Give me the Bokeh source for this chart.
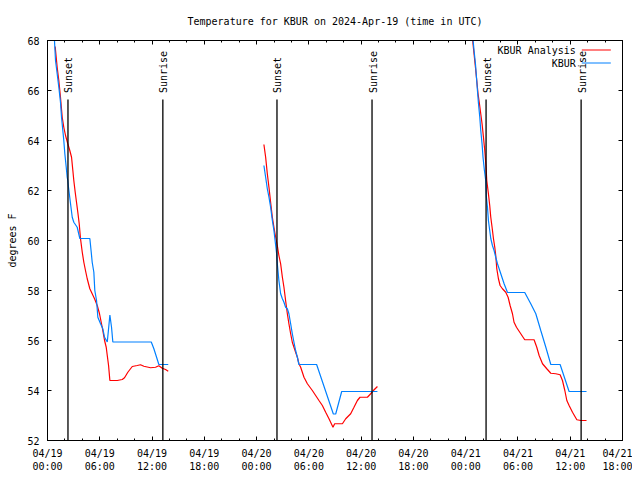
import pandas as pd
from math import pi
from bokeh.plotting import figure
from bokeh.models import (FixedTicker, DatetimeTickFormatter, LinearAxis, DatetimeAxis,
                          Range1d, ColumnDataSource)
from bokeh.core.properties import value
from bokeh.embed import file_html
from bokeh.resources import INLINE

TITLE = "Temperature for KBUR on 2024-Apr-19 (time in UTC)"
BASE = pd.Timestamp("2024-04-19 00:00")

# ---- data: hours since 2024-04-19 00:00 UTC, temperature in deg F ----
analysis_hours_1 = [0.88, 1.11, 1.30, 1.49, 1.69, 1.87, 2.07, 2.33, 2.56, 2.76, 2.91, 3.02, 3.18, 3.33, 3.48,
                    3.64, 3.79, 3.99, 4.17, 4.36, 4.56, 4.86, 5.13, 5.40, 5.71, 5.97, 6.28, 6.55, 6.74, 6.86,
                    7.01, 7.16, 8.01, 8.58, 8.84, 9.22, 9.73, 10.30, 10.68, 11.06, 11.83, 12.40, 12.78, 13.17,
                    13.55, 13.86]
analysis_temp_1 = [67.76, 66.93, 66.40, 65.73, 64.93, 64.53, 64.20, 63.87, 63.60, 63.33, 62.80, 62.40, 61.93,
                   61.53, 61.13, 60.67, 60.07, 59.53, 59.13, 58.80, 58.47, 58.07, 57.87, 57.67, 57.40, 57.07,
                   56.53, 56.00, 55.73, 55.40, 55.00, 54.40, 54.40, 54.44, 54.51, 54.73, 54.96, 55.00, 55.03,
                   54.97, 54.91, 54.93, 54.99, 54.89, 54.84, 54.77]
obs_hours_1 = [0.80, 0.92, 1.11, 1.30, 1.49, 1.61, 1.76, 1.87, 1.99, 2.15, 2.26, 2.33, 2.41, 2.64, 2.84, 3.02,
               3.41, 3.71, 4.86, 5.02, 5.13, 5.32, 5.43, 5.63, 5.78, 6.09, 6.35, 6.55, 6.86, 7.01, 7.16, 7.35,
               7.50, 11.91, 12.21, 12.52, 12.78, 13.86]
obs_temp_1 = [68.00, 67.20, 66.67, 66.13, 65.53, 64.93, 64.40, 64.00, 63.47, 62.93, 62.53, 62.40, 62.13, 61.48,
              60.93, 60.73, 60.53, 60.08, 60.08, 59.53, 59.13, 58.73, 58.00, 57.60, 56.93, 56.67, 56.47, 56.13,
              55.94, 56.47, 57.02, 56.53, 55.94, 55.94, 55.67, 55.33, 55.04, 55.04]

analysis_hours_2 = [24.84, 25.04, 25.23, 25.42, 25.61, 25.81, 25.99, 26.19, 26.38, 26.56, 26.76, 26.96, 27.14,
                    27.33, 27.53, 27.71, 27.91, 28.10, 28.29, 28.48, 28.68, 28.86, 29.06, 29.25, 29.44, 29.83,
                    30.40, 30.78, 31.16, 31.55, 31.93, 32.31, 32.50, 32.77, 32.96, 33.85, 34.23, 34.80, 35.18,
                    35.57, 35.87, 36.72, 37.10, 37.41, 37.87]
analysis_temp_2 = [63.84, 63.33, 62.67, 62.13, 61.53, 60.93, 60.53, 60.13, 59.80, 59.40, 59.07, 58.53, 58.13,
                   57.60, 57.07, 56.67, 56.27, 55.93, 55.73, 55.53, 55.33, 55.07, 54.93, 54.73, 54.53, 54.27,
                   54.00, 53.80, 53.60, 53.40, 53.13, 52.87, 52.73, 52.53, 52.67, 52.67, 52.87, 53.07, 53.33,
                   53.60, 53.73, 53.73, 53.87, 54.00, 54.16]
obs_hours_2 = [24.84, 25.04, 25.23, 25.42, 25.61, 25.81, 25.99, 26.19, 26.30, 26.38, 26.56, 26.76, 26.96,
               27.14, 27.33, 27.53, 27.71, 27.91, 28.10, 28.29, 28.48, 28.68, 28.86, 30.89, 32.81, 33.08,
               33.77, 37.87]
obs_temp_2 = [63.00, 62.53, 62.07, 61.73, 61.33, 60.80, 60.40, 59.80, 59.47, 59.07, 58.40, 57.87, 57.67, 57.53,
              57.33, 57.27, 57.07, 56.67, 56.27, 55.93, 55.60, 55.33, 55.04, 55.04, 53.06, 53.06, 53.96, 53.96]

analysis_hours_3 = [48.80, 48.96, 49.12, 49.27, 49.42, 49.58, 49.73, 49.88, 50.04, 50.19, 50.34, 50.42, 50.61,
                    50.76, 50.88, 51.03, 51.19, 51.34, 51.45, 51.57, 51.76, 51.95, 52.22, 52.60, 52.87, 53.10,
                    53.37, 53.55, 53.83, 54.21, 54.78, 55.85, 56.16, 56.43, 56.82, 57.31, 57.77, 58.34, 58.84,
                    59.11, 59.38, 59.61, 59.87, 60.26, 60.76, 61.22, 61.87]
analysis_temp_3 = [68.00, 67.47, 66.93, 66.40, 65.87, 65.47, 65.07, 64.67, 64.13, 63.60, 62.93, 62.40, 61.87,
                   61.40, 60.93, 60.53, 60.07, 59.73, 59.40, 58.87, 58.47, 58.20, 58.07, 57.93, 57.73, 57.40,
                   57.07, 56.73, 56.53, 56.33, 56.03, 56.03, 55.73, 55.40, 55.07, 54.87, 54.69, 54.67, 54.63,
                   54.40, 54.00, 53.60, 53.40, 53.13, 52.83, 52.80, 52.80]
obs_hours_3 = [48.85, 48.96, 49.12, 49.24, 49.35, 49.47, 49.62, 49.73, 49.88, 49.99, 50.15, 50.30, 50.38,
               50.50, 50.61, 50.76, 50.88, 51.07, 51.26, 51.45, 51.65, 52.03, 52.41, 52.80, 54.78, 55.47,
               56.05, 56.62, 57.20, 57.77, 58.84, 59.87, 61.87]
obs_temp_3 = [68.00, 67.60, 67.07, 66.53, 66.00, 65.47, 64.93, 64.40, 63.87, 63.33, 62.80, 62.40, 61.73, 61.33,
              60.80, 60.40, 60.08, 59.80, 59.60, 59.33, 59.07, 58.67, 58.27, 57.92, 57.92, 57.47, 57.07, 56.40,
              55.73, 55.04, 55.04, 53.96, 53.96]

sunset_hours = [2.35, 26.34, 50.34]
sunrise_hours = [13.24, 37.25, 61.25]

x_tick_hours = [0, 6, 12, 18, 24, 30, 36, 42, 48, 54, 60, 66]
x_minor_hours = list(range(0, 67, 2))
y_ticks = [52, 54, 56, 58, 60, 62, 64, 66, 68]

series_names = ["KBUR Analysis", "KBUR"]
RED = "#ff0000"
BLUE = "#0080ff"
FONT = "DejaVu Sans Mono"
FS = "10px"


def to_time(hours):
    return [BASE + pd.Timedelta(hours=h) for h in hours]


def to_ms(hours):
    return [(BASE + pd.Timedelta(hours=h)).value / 1e6 for h in hours]


p = figure(width=632, height=474, x_axis_type="datetime", output_backend="svg", toolbar_location=None,
           x_range=Range1d(*to_ms([x_tick_hours[0], x_tick_hours[-1]])), y_range=Range1d(52, 68),
           min_border_left=47, min_border_right=10, min_border_top=40, min_border_bottom=34)

p.title.text = TITLE
p.title.align = "center"
p.title.text_font = FONT
p.title.text_font_size = FS
p.title.text_font_style = "normal"
p.title.text_color = "black"
p.title.standoff = 27
p.grid.visible = False
p.outline_line_color = "black"
p.background_fill_color = "white"
p.border_fill_color = "white"

fmt = "%m/%d\n%H:%M"
dt_fmt = DatetimeTickFormatter(microseconds=fmt, milliseconds=fmt, seconds=fmt, minsec=fmt, minutes=fmt,
                               hourmin=fmt, hours=fmt, days=fmt, months=fmt, years=fmt)


def style_axis(ax, show_labels):
    ax.axis_line_color = "black"
    ax.major_tick_in = 4
    ax.major_tick_out = 0
    ax.minor_tick_in = 2
    ax.minor_tick_out = 0
    ax.major_tick_line_color = "black"
    ax.minor_tick_line_color = "black"
    ax.major_label_text_font = FONT
    ax.axis_label_text_font = FONT
    ax.axis_label_text_font_size = FS
    ax.axis_label_text_font_style = "normal"
    ax.axis_label_text_color = "black"
    if show_labels:
        ax.major_label_text_font_size = FS
        ax.major_label_standoff = 8
        ax.major_label_text_color = "black"
    else:
        ax.major_label_text_font_size = "0px"
        ax.major_label_standoff = 0
        ax.major_label_text_color = None


xt = FixedTicker(ticks=to_ms(x_tick_hours), minor_ticks=to_ms(x_minor_hours))
yt = FixedTicker(ticks=y_ticks, minor_ticks=[])

p.xaxis.ticker = xt
p.xaxis.formatter = dt_fmt
style_axis(p.xaxis[0], True)
p.xaxis.major_label_standoff = 7

p.yaxis.ticker = yt
style_axis(p.yaxis[0], True)
p.yaxis.axis_label = "degrees F"
p.yaxis.axis_label_standoff = 6

top_ax = DatetimeAxis(ticker=xt, formatter=dt_fmt)
style_axis(top_ax, False)
p.add_layout(top_ax, "above")
right_ax = LinearAxis(ticker=yt)
style_axis(right_ax, False)
p.add_layout(right_ax, "right")

# data lines
segments = [(analysis_hours_1, analysis_temp_1, obs_hours_1, obs_temp_1),
            (analysis_hours_2, analysis_temp_2, obs_hours_2, obs_temp_2),
            (analysis_hours_3, analysis_temp_3, obs_hours_3, obs_temp_3)]
for ah, at, oh, ot in segments:
    p.line(to_time(ah), at, line_color=RED, line_width=1.2)
    p.line(to_time(oh), ot, line_color=BLUE, line_width=1.2)

# sunset / sunrise markers
LINE_TOP = 65.64
LABEL_BASE = 65.9
sun_hours = sunset_hours + sunrise_hours
sun_labels = ["Sunset"] * len(sunset_hours) + ["Sunrise"] * len(sunrise_hours)
sun_src = ColumnDataSource(dict(x=to_time(sun_hours), y0=[52] * len(sun_hours),
                                y1=[LINE_TOP] * len(sun_hours), ly=[LABEL_BASE] * len(sun_hours),
                                label=sun_labels))
p.segment(x0="x", y0="y0", x1="x", y1="y1", source=sun_src, line_color="black", line_width=1.3)
p.text(x="x", y="ly", text="label", source=sun_src, angle=pi / 2, text_align="left",
       text_baseline="middle", x_offset=1, text_font=value(FONT), text_font_size=FS, text_color="black")

# legend (gnuplot style: text right-aligned, sample line to its right)
LEG_TEXT_X = 60.64
LEG_LINE = (61.33, 64.66)
LEG_Y = [67.62, 67.1]
leg_src = ColumnDataSource(dict(tx=to_time([LEG_TEXT_X] * 2), ty=LEG_Y, label=series_names,
                                x0=to_time([LEG_LINE[0]] * 2), x1=to_time([LEG_LINE[1]] * 2),
                                color=[RED, BLUE]))
p.text(x="tx", y="ty", text="label", source=leg_src, text_align="right", text_baseline="middle",
       text_font=value(FONT), text_font_size=FS, text_color="black")
p.segment(x0="x0", y0="ty", x1="x1", y1="ty", source=leg_src, line_color="color", line_width=1.2)

open("out.html", "w").write(file_html(p, INLINE))
